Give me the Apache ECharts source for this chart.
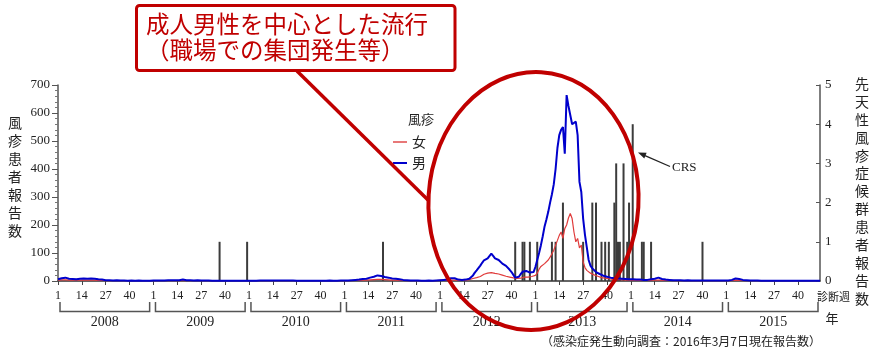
<!DOCTYPE html>
<html><head><meta charset="utf-8">
<script src="https://cdn.jsdelivr.net/npm/echarts@6/dist/echarts.min.js"></script>
<style>html,body{margin:0;padding:0;background:#fff}#c{width:871px;height:353px}</style>
</head><body><div id="c"></div>
<script>
// ---- data ----
const years = [2008, 2009, 2010, 2011, 2012, 2013, 2014, 2015];
const weeksPerYear = 52;
const weekTickLabels = ['1', '14', '27', '40'];

// 風疹 男 (weekly reports)
const male2008 = [6,8,10,7,12,9,8,6,7,8,6,5,8,7,9,10,8,6,9,11,8,7,6,8,5,4,3,4,3,3,2,2,3,2,2,1,2,2,1,1,2,1,1,1,2,1,1,1,1,2,1,1];
const male2009 = [2,2,2,3,2,3,2,2,3,2,3,4,3,2,3,4,5,3,3,4,3,2,2,2,3,2,2,3,2,4,2,2,1,1,1,1,1,1,1,1,1,1,1,1,1,1,1,1,1,1,1,1];
const male2010 = [1,1,1,2,1,1,2,2,2,1,2,3,2,2,2,3,2,2,2,3,2,2,2,2,2,1,1,1,1,1,1,1,1,1,1,1,1,1,1,1,1,1,1,1,2,1,1,1,1,2,2,2];
const male2011 = [2,2,2,3,3,3,4,4,5,6,7,8,8,10,12,14,15,18,20,26,18,16,14,13,12,10,9,8,8,7,6,5,4,4,3,3,2,2,2,2,2,2,1,1,1,2,2,2,1,1,2,2];
const male2012 = [3,3,4,4,5,8,10,12,10,7,5,5,4,4,5,6,8,12,20,30,38,44,55,65,74,78,81,88,98,90,81,80,75,68,62,58,54,48,40,32,22,12,7,15,25,33,38,36,32,30,28,32];
const male2013 = [50,75,100,128,160,195,220,247,280,310,345,400,475,521,540,550,455,664,625,628,560,563,569,521,354,318,223,165,120,75,55,45,38,32,28,25,22,19,17,15,13,12,11,10,9,9,8,8,7,7,6,6];
const male2014 = [7,6,6,5,5,5,4,4,4,4,5,6,7,8,10,12,9,7,5,5,4,4,3,3,3,3,3,3,2,2,2,3,2,2,2,2,2,2,2,2,2,2,2,2,2,2,2,2,2,2,2,2];
const male2015 = [2,2,3,4,6,9,10,7,5,4,3,3,2,2,2,2,2,2,2,1,1,1,1,1,1,1,1,1,1,1,1,1,1,1,1,1,1,1,1,1,1,1,1,1,1,1,1,1,1,1,1,1];

// 風疹 女 (weekly reports)
const female2008 = [3,3,4,3,4,3,3,3,3,3,3,2,3,3,3,4,3,2,3,3,3,2,2,2,2,1,1,1,1,1,1,1,1,1,1,1,1,1,1,1,1,1,1,1,1,1,1,1,1,1,1,1];
const female2009 = [1,1,1,1,1,1,1,1,1,1,1,1,1,1,1,1,2,1,1,1,1,1,1,1,1,1,1,1,1,1,1,1,1,1,1,1,1,1,1,1,1,1,1,1,1,1,1,1,1,1,1,1];
const female2010 = [1,1,1,1,1,1,1,1,1,1,1,1,1,1,1,1,1,1,1,1,1,1,1,1,1,1,1,1,1,1,1,1,1,1,1,1,1,1,1,1,1,1,1,1,1,1,1,1,1,1,1,1];
const female2011 = [1,1,1,1,1,1,2,2,2,2,3,3,3,4,4,5,5,6,6,8,6,5,5,4,4,3,3,3,3,2,2,2,2,2,1,1,1,1,1,1,1,1,1,1,1,1,1,1,1,1,1,1];
const female2012 = [2,2,2,2,3,3,3,3,3,2,2,2,2,2,3,4,5,7,9,11,12,14,16,20,24,26,28,32,30,28,27,26,25,23,21,19,17,15,14,13,11,10,9,9,10,12,14,15,14,14,16,18];
const female2013 = [20,28,42,52,58,62,68,75,85,92,110,128,145,163,175,152,187,200,225,241,223,175,140,152,118,128,68,48,38,32,28,26,22,20,17,14,12,11,10,9,8,7,6,6,5,5,5,4,4,4,3,3];
const female2014 = [3,3,3,2,2,2,2,2,2,2,2,2,3,3,3,4,3,2,2,2,2,2,2,1,1,1,1,1,1,1,1,1,1,1,1,1,1,1,1,1,1,1,1,1,1,1,1,1,1,1,1,1];
const female2015 = [1,1,1,1,2,3,3,2,2,1,1,1,1,1,1,1,1,1,1,1,1,1,1,1,1,1,1,1,1,1,1,1,1,1,1,1,1,1,1,1,1,1,1,1,1,1,1,1,1,1,1,1];

// 先天性風疹症候群 (CRS) reports
const crsWeeks  = ['2009-37','2009-52','2011-22','2012-42','2012-46','2012-47','2012-50','2013-2','2013-10','2013-12','2013-16','2013-27','2013-32','2013-34','2013-37','2013-39','2013-41','2013-44','2013-45','2013-46','2013-47','2013-49','2013-51','2013-52','2014-2','2014-7','2014-8','2014-12','2014-40'];
const crsCounts = [1,1,1,1,1,1,1,1,1,1,2,1,2,2,1,1,1,2,3,1,1,3,1,2,4,1,1,1,1];

// ---- build ----
const maleByYear = [male2008, male2009, male2010, male2011, male2012, male2013, male2014, male2015];
const femaleByYear = [female2008, female2009, female2010, female2011, female2012, female2013, female2014, female2015];
const categories = [];
years.forEach(y => { for (let w = 1; w <= weeksPerYear; w++) categories.push(y + '-' + w); });
const maleData = [].concat(...maleByYear);
const femaleData = [].concat(...femaleByYear);
const crsMap = {};
crsWeeks.forEach((w, i) => { crsMap[w] = crsCounts[i]; });
const crsData = categories.map(c => (c in crsMap ? crsMap[c] : '-'));

const tickIdx = (i) => (i % weeksPerYear) % 13 === 0;
const SERIF = 'Liberation Serif';
const CJK = 'Noto Sans CJK JP';
const RED = '#c00000';

const chart = echarts.init(document.getElementById('c'));
chart.setOption({
  animation: false,
  backgroundColor: '#fff',
  grid: { left: 58, right: 51, top: 85, bottom: 72, containLabel: false },
  legend: {
    data: ['女', '男'], orient: 'vertical', left: 393, top: 134, padding: 0,
    icon: 'rect', itemWidth: 14, itemHeight: 2, itemGap: 5,
    textStyle: { fontFamily: CJK, fontSize: 14, color: '#222', lineHeight: 16 }
  },
  xAxis: {
    type: 'category', data: categories, boundaryGap: false,
    axisLine: { lineStyle: { color: '#333', width: 1.5 } },
    axisTick: { show: true, interval: tickIdx, length: 4, lineStyle: { color: '#444' } },
    axisLabel: {
      interval: tickIdx, margin: 9, fontFamily: SERIF, fontSize: 12, color: '#222',
      formatter: v => v.split('-')[1]
    },
    splitLine: { show: false }
  },
  yAxis: [
    {
      type: 'value', position: 'left', min: 0, max: 700, interval: 100,
      axisLine: { show: true, lineStyle: { color: '#555', width: 1.5 } },
      axisTick: { show: true, length: 6, lineStyle: { color: '#555' } },
      minorTick: { show: true, splitNumber: 5, length: 3, lineStyle: { color: '#777' } },
      axisLabel: { margin: 8, fontFamily: SERIF, fontSize: 13, color: '#222' },
      splitLine: { show: false }
    },
    {
      type: 'value', position: 'right', min: 0, max: 5, interval: 1,
      axisLine: { show: true, lineStyle: { color: '#555', width: 1.5 } },
      axisTick: { show: true, inside: true, length: 4, lineStyle: { color: '#555' } },
      axisLabel: { margin: 5, fontFamily: SERIF, fontSize: 13, color: '#222' },
      splitLine: { show: false }
    }
  ],
  series: [
    {
      name: 'CRS', type: 'bar', yAxisIndex: 1, data: crsData, barWidth: 2,
      itemStyle: { color: '#3c3c3c' }, z: 2
    },
    {
      name: '女', type: 'line', data: femaleData, symbol: 'none', showSymbol: false,
      lineStyle: { color: '#e03c3c', width: 1.2 }, itemStyle: { color: '#e87878' }, z: 3
    },
    {
      name: '男', type: 'line', data: maleData, symbol: 'none', showSymbol: false,
      lineStyle: { color: '#0000cc', width: 2 }, itemStyle: { color: '#0000cc' }, z: 4
    }
  ]
});

// ---- annotations ----
const graphics = [];
// year brackets via the axis scale
years.forEach(y => {
  const x0 = chart.convertToPixel({ xAxisIndex: 0 }, y + '-1') + 2;
  const x1 = chart.convertToPixel({ xAxisIndex: 0 }, y + '-' + weeksPerYear) - 2;
  graphics.push({
    type: 'polyline', silent: true,
    shape: { points: [[x0, 302], [x0, 311.5], [x1, 311.5], [x1, 302]] },
    style: { stroke: '#555', lineWidth: 1.5, fill: null }
  });
  graphics.push({
    type: 'text', x: (x0 + x1) / 2, y: 322,
    style: { text: String(y), fontFamily: SERIF, fontSize: 14, fill: '#222', textAlign: 'center', textVerticalAlign: 'middle' }
  });
});
// axis names
graphics.push({ type: 'text', x: 15, y: 177,
  style: { text: '風疹患者報告数'.split('').join('\n'), fontFamily: CJK, fontSize: 14, lineHeight: 18, fill: '#222', textAlign: 'center', textVerticalAlign: 'middle' } });
graphics.push({ type: 'text', x: 862, y: 191,
  style: { text: '先天性風疹症候群患者報告数'.split('').join('\n'), fontFamily: CJK, fontSize: 14, lineHeight: 17.9, fill: '#222', textAlign: 'center', textVerticalAlign: 'middle' } });
graphics.push({ type: 'text', x: 817, y: 297,
  style: { text: '診断週', fontFamily: CJK, fontSize: 11, fill: '#222', textAlign: 'left', textVerticalAlign: 'middle' } });
graphics.push({ type: 'text', x: 832, y: 318,
  style: { text: '年', fontFamily: CJK, fontSize: 13, fill: '#222', textAlign: 'center', textVerticalAlign: 'middle' } });
graphics.push({ type: 'text', x: 421, y: 119,
  style: { text: '風疹', fontFamily: CJK, fontSize: 13, fill: '#222', textAlign: 'center', textVerticalAlign: 'middle' } });
// CRS arrow
graphics.push({ type: 'line', shape: { x1: 670, y1: 166.5, x2: 645, y2: 155.6 }, style: { stroke: '#222', lineWidth: 1.3 } });
graphics.push({ type: 'polygon', shape: { points: [[638, 152.5], [646.6, 152.8], [644.3, 158.4]] }, style: { fill: '#222' } });
graphics.push({ type: 'text', x: 672, y: 168,
  style: { text: 'CRS', fontFamily: SERIF, fontSize: 13, fill: '#222', textAlign: 'left', textVerticalAlign: 'middle' } });
// footer
graphics.push({ type: 'text', x: 541, y: 341,
  style: { text: '（感染症発生動向調査：2016年3月7日現在報告数）', fontFamily: CJK, fontSize: 12, fill: '#222', textAlign: 'left', textVerticalAlign: 'middle' } });
// red callout
graphics.push({ type: 'line', z: 100, shape: { x1: 297, y1: 71, x2: 428, y2: 200 }, style: { stroke: RED, lineWidth: 3.5 } });
graphics.push({ type: 'ellipse', z: 100, shape: { cx: 533.5, cy: 201, rx: 105, ry: 129 }, origin: [533.5, 201], rotation: -0.06,
  style: { stroke: RED, lineWidth: 4, fill: null } });
graphics.push({ type: 'rect', z: 100, shape: { x: 136.5, y: 5.5, width: 318.5, height: 65, r: 3 }, style: { stroke: RED, lineWidth: 3, fill: '#fff' } });
graphics.push({ type: 'text', z: 101, x: 146, y: 24,
  style: { text: '成人男性を中心とした流行', fontFamily: CJK, fontSize: 23.5, fill: RED, textAlign: 'left', textVerticalAlign: 'middle' } });
graphics.push({ type: 'text', z: 101, x: 146, y: 50,
  style: { text: '（職場での集団発生等）', fontFamily: CJK, fontSize: 23.5, fill: RED, textAlign: 'left', textVerticalAlign: 'middle' } });

chart.setOption({ graphic: graphics });
</script>
</body></html>
